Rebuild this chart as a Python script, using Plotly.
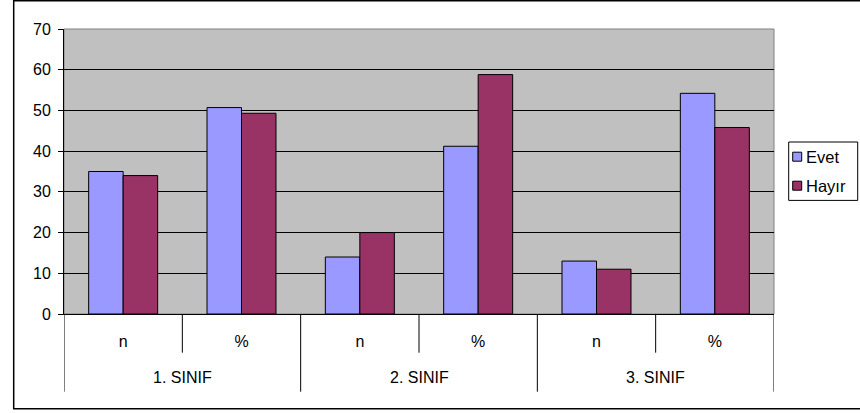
import plotly.graph_objects as go

groups = ["1. SINIF", "1. SINIF", "2. SINIF", "2. SINIF", "3. SINIF", "3. SINIF"]
subs = ["n", "%", "n", "%", "n", "%"]
evet = [35, 50.7, 14, 41.2, 13, 54.2]
hayir = [34, 49.3, 20, 58.8, 11, 45.8]
series_names = ["Evet", "Hayır"]
series_colors = ["#9999FF", "#993366"]

x_keys = [f"{g} {s}" for g, s in zip(groups, subs)]

# plot area in pixels
L, R, T, B = 64.3, 774.3, 29.3, 314.3
PW, PH = R - L, B - T
def px(x):
    return (x - L) / PW
def py(y):
    return (B - y) / PH

fig = go.Figure()
for name, vals, col in zip(series_names, [evet, hayir], series_colors):
    fig.add_trace(go.Bar(name=name, x=x_keys, y=vals, showlegend=False, hoverinfo="skip",
                         marker=dict(color=col, line=dict(color="black", width=1))))

fig.update_layout(
    width=860, height=413,
    margin=dict(l=L, r=860 - R, t=T, b=413 - B, autoexpand=False),
    paper_bgcolor="white", plot_bgcolor="#C0C0C0",
    barmode="group", bargap=0.417, bargroupgap=0,
    font=dict(family="Liberation Sans, Arial", size=16, color="black"),
)
fig.update_yaxes(range=[0, 70], dtick=10, showgrid=True, gridcolor="black", gridwidth=1,
                 ticks="outside", ticklen=5, tickcolor="black", ticklabelstandoff=4,
                 showline=True, linecolor="black", zeroline=False)
fig.update_xaxes(type="category", tickvals=x_keys, ticktext=subs, range=[-0.5, 5.5],
                 showline=True, linecolor="black", ticks="", ticklabelstandoff=13)

shapes = []
# plot area border
shapes.append(dict(type="rect", xref="paper", yref="paper", x0=0, x1=1, y0=0, y1=1,
                   line=dict(color="#808080", width=1), layer="below"))
# category dividers below axis
for i in range(7):
    xb = i - 0.5
    long = (i % 2 == 0)
    y1 = py(392) if long else py(353)
    shapes.append(dict(type="line", xref="x", yref="paper", x0=xb, x1=xb, y0=0, y1=y1,
                       line=dict(color="black", width=1)))
# outer chart border
shapes.append(dict(type="rect", xref="paper", yref="paper", x0=px(14), x1=px(863),
                   y0=py(409), y1=py(1), line=dict(color="black", width=1.5)))
# custom legend
shapes.append(dict(type="rect", xref="paper", yref="paper", x0=px(789), x1=px(858),
                   y0=py(200.7), y1=py(142.3), line=dict(color="black", width=1),
                   fillcolor="white"))
annotations = []
for k, (name, col) in enumerate(zip(series_names, series_colors)):
    cy = 157 + 29 * k
    shapes.append(dict(type="rect", xref="paper", yref="paper", x0=px(793), x1=px(802),
                       y0=py(cy + 4.5), y1=py(cy - 4.5), line=dict(color="black", width=1),
                       fillcolor=col))
    annotations.append(dict(xref="paper", yref="paper", x=px(804.5), y=py(cy), text=name,
                            showarrow=False, xanchor="left", yanchor="middle",
                            font=dict(size=16.5)))
# group labels
for gi, g in enumerate(["1. SINIF", "2. SINIF", "3. SINIF"]):
    annotations.append(dict(xref="x", yref="paper", x=2 * gi + 0.5, y=py(378), text=g,
                            showarrow=False, xanchor="center", yanchor="middle"))

fig.update_layout(shapes=shapes, annotations=annotations)
fig.write_html("out.html", config={"displayModeBar": False},
               post_script="document.body.style.margin='0';")
